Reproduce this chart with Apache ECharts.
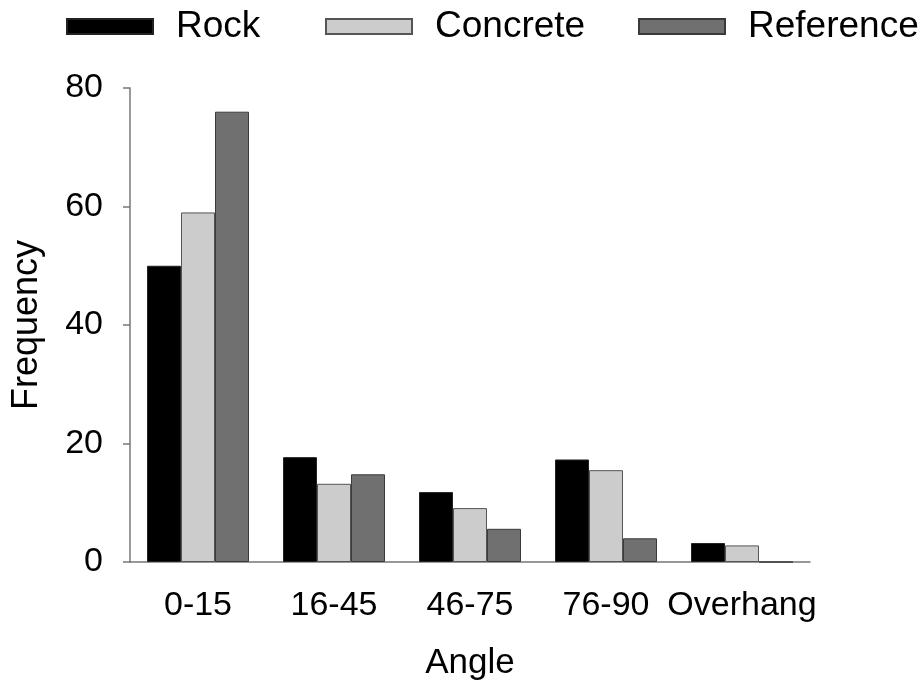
<!DOCTYPE html>
<html>
<head>
<meta charset="utf-8">
<script src="https://cdn.jsdelivr.net/npm/echarts@6/dist/echarts.min.js"></script>
<style>html,body{margin:0;padding:0;background:#fff;}#chart{width:919px;height:682px;}</style>
</head>
<body>
<div id="chart"></div>
<script>
const categories = ['0-15', '16-45', '46-75', '76-90', 'Overhang'];
const rock = [50, 17.7, 11.8, 17.3, 3.2];
const concrete = [59, 13.2, 9.1, 15.5, 2.8];
const reference = [76, 14.8, 5.6, 4.0, 0];
const yTicks = { min: 0, max: 80, interval: 20 };

const FONT = '"Liberation Sans", Arial, sans-serif';
const chart = echarts.init(document.getElementById('chart'), null, { renderer: 'canvas' });

function legendItem(name, left) {
  return {
    data: [{ name: name, icon: 'rect' }], left: left, top: 8, padding: 0,
    itemWidth: 86, itemHeight: 15,
    textStyle: { fontFamily: FONT, fontSize: 37, color: '#000', padding: [0, 0, 0, 18] }
  };
}

const barBase = { type: 'bar', barGap: '0%', barCategoryGap: '25%' };

chart.setOption({
  animation: false,
  backgroundColor: '#fff',
  legend: [legendItem('Rock', 66), legendItem('Concrete', 325), legendItem('Reference', 638)],
  grid: { left: 130, right: 109, top: 88, bottom: 120, containLabel: false, outerBoundsMode: 'none' },
  xAxis: {
    type: 'category', data: categories,
    name: 'Angle', nameLocation: 'middle', nameGap: 84,
    nameTextStyle: { fontFamily: FONT, fontSize: 35, color: '#000' },
    axisLine: { lineStyle: { color: '#777', width: 1.5 } },
    axisTick: { alignWithLabel: true, interval: 0, length: 7, lineStyle: { color: '#777', width: 1.5 } },
    axisLabel: { interval: 0, fontFamily: FONT, fontSize: 34, color: '#000', margin: 27 },
    splitLine: { show: false }
  },
  yAxis: {
    type: 'value', min: yTicks.min, max: yTicks.max, interval: yTicks.interval,
    name: 'Frequency', nameLocation: 'middle', nameGap: 85, nameRotate: 90,
    nameTextStyle: { fontFamily: FONT, fontSize: 36, color: '#000' },
    axisLine: { show: true, lineStyle: { color: '#777', width: 1.5 } },
    axisTick: { show: true, length: 7, lineStyle: { color: '#777', width: 1.5 } },
    axisLabel: { fontFamily: FONT, fontSize: 34, color: '#000', margin: 27 },
    splitLine: { show: false }
  },
  series: [
    Object.assign({}, barBase, { name: 'Rock', data: rock, itemStyle: { color: '#000000', borderColor: '#222', borderWidth: 1 } }),
    Object.assign({}, barBase, { name: 'Concrete', data: concrete, itemStyle: { color: '#cccccc', borderColor: '#555', borderWidth: 1 } }),
    Object.assign({}, barBase, { name: 'Reference', data: reference, itemStyle: { color: '#707070', borderColor: '#3a3a3a', borderWidth: 1 } })
  ]
});
</script>
</body>
</html>
